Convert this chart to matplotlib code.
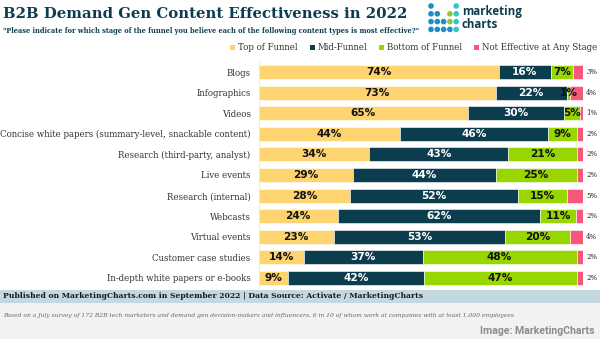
import matplotlib
matplotlib.use("Agg")
import matplotlib.pyplot as plt
from matplotlib.patches import Rectangle, Patch, Ellipse
import numpy as np

categories = ["Blogs", "Infographics", "Videos",
              "Concise white papers (summary-level, snackable content)",
              "Research (third-party, analyst)", "Live events", "Research (internal)",
              "Webcasts", "Virtual events", "Customer case studies",
              "In-depth white papers or e-books"]
top = [74, 73, 65, 44, 34, 29, 28, 24, 23, 14, 9]
mid = [16, 22, 30, 46, 43, 44, 52, 62, 53, 37, 42]
bottom = [7, 1, 5, 9, 21, 25, 15, 11, 20, 48, 47]
noteff = [3, 4, 1, 2, 2, 2, 5, 2, 4, 2, 2]
series_names = ["Top of Funnel", "Mid-Funnel", "Bottom of Funnel", "Not Effective at Any Stage"]
colors = ["#fdd46f", "#0c3d4e", "#98d600", "#f6577b"]
text_colors = ["#111111", "#ffffff", "#111111", "#111111"]

W, H = 600, 339
fig = plt.figure(figsize=(6, 3.39), dpi=100)
fig.patch.set_facecolor("white")

def fx(px): return px / W
def fy(py): return 1 - py / H

ax = fig.add_axes([fx(259), fy(288), fx(583) - fx(259), fy(62) - fy(288)])
data = np.array([top, mid, bottom, noteff], dtype=float)
totals = data.sum(axis=0)
norm = data / totals * 100
y = np.arange(len(categories))
left = np.zeros(len(categories))
for i in range(4):
    ax.barh(y, norm[i], left=left, color=colors[i], height=0.68, edgecolor="white", linewidth=0.4)
    if i < 3:
        for j in range(len(categories)):
            v = data[i][j]
            if v >= 1:
                ax.text(left[j] + norm[i][j] / 2, y[j], f"{int(v)}%", ha="center", va="center",
                        fontsize=7.6, fontweight="bold", color=text_colors[i],
                        family="DejaVu Sans")
    left = left + norm[i]
for j in range(len(categories)):
    ax.text(101, y[j], f"{int(noteff[j])}%", ha="left", va="center", fontsize=5,
            color="#222222", family="DejaVu Serif")
ax.set_xlim(0, 100)
ax.set_ylim(len(categories) - 0.5, -0.5)
ax.set_yticks(y)
ax.set_yticklabels(categories, family="DejaVu Serif", fontsize=6.2, color="#333333")
ax.tick_params(axis="y", length=0, pad=6)
ax.set_xticks([])
for s in ["top", "right", "bottom"]:
    ax.spines[s].set_visible(False)
ax.spines["left"].set_color("#e6e6e6")
ax.spines["left"].set_linewidth(0.6)

# title area
fig.text(fx(3), fy(14), "B2B Demand Gen Content Effectiveness in 2022", ha="left", va="center",
         fontsize=10.7, fontweight="bold", color="#0c3d4e", family="DejaVu Serif")
fig.text(fx(3), fy(31), "\"Please indicate for which stage of the funnel you believe each of the following content types is most effective?\"",
         ha="left", va="center", fontsize=4.8, fontweight="bold", color="#0c3d4e", family="DejaVu Serif")

# logo dots
dot_rows = [[1, 0, 0, 0, 2], [1, 1, 0, 3, 2], [1, 1, 1, 3, 2], [1, 1, 1, 1, 2]]
dot_cols = {1: "#1b8fc6", 2: "#36c3c9", 3: "#8cc63f"}
for r, row in enumerate(dot_rows):
    for c, v in enumerate(row):
        if v:
            fig.patches.append(Ellipse((fx(431 + c * 6.3), fy(6 + r * 7.8)), 4.2 / W, 4.2 / H,
                                       transform=fig.transFigure, color=dot_cols[v], zorder=5))
fig.text(fx(462), fy(12), "marketing", ha="left", va="center", fontsize=8.3, fontweight="bold",
         color="#0c3d4e", family="Open Sans")
fig.text(fx(462), fy(25), "charts", ha="left", va="center", fontsize=8.3, fontweight="bold",
         color="#0c3d4e", family="Open Sans")

# legend
handles = [Patch(facecolor=colors[i], edgecolor="none", label=series_names[i]) for i in range(4)]
leg = fig.legend(handles=handles, loc="center right", bbox_to_anchor=(fx(597), fy(48)), ncol=4,
                 frameon=False, fontsize=6.2, handlelength=0.6, handleheight=0.6,
                 handletextpad=0.3, columnspacing=1.4, borderaxespad=0, borderpad=0)
for t in leg.get_texts():
    t.set_family("DejaVu Serif")
    t.set_color("#333333")

# footer
fig.patches.append(Rectangle((0, fy(303)), 1, fy(290) - fy(303), transform=fig.transFigure,
                             facecolor="#c4d8e2", edgecolor="none", zorder=0))
fig.patches.append(Rectangle((0, 0), 1, fy(303), transform=fig.transFigure,
                             facecolor="#f2f2f2", edgecolor="none", zorder=0))
fig.text(fx(3), fy(296.5), "Published on MarketingCharts.com in September 2022 | Data Source: Activate / MarketingCharts",
         ha="left", va="center", fontsize=5.5, fontweight="bold", color="#1a1a1a", family="DejaVu Serif")
fig.text(fx(3), fy(316), "Based on a July survey of 172 B2B tech marketers and demand gen decision-makers and influencers, 6 in 10 of whom work at companies with at least 1,000 employees",
         ha="left", va="center", fontsize=4.3, style="italic", color="#666666", family="DejaVu Serif")
fig.text(fx(595), fy(331), "Image: MarketingCharts", ha="right", va="center", fontsize=7.6,
         fontweight="bold", color="#8c8c8c", family="Roboto")

fig.savefig("out.png", dpi=100, facecolor=fig.get_facecolor())
